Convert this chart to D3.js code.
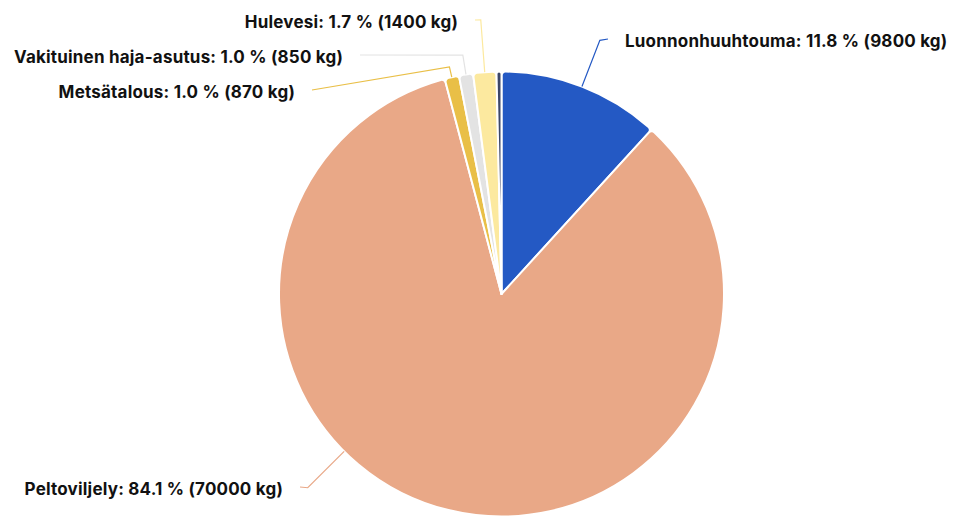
<!DOCTYPE html>
<html>
<head>
<meta charset="utf-8">
<script src="https://cdn.jsdelivr.net/npm/d3@7"></script>
<style>
  body { margin: 0; background: #fff; }
  text { font-family: Inter, "Noto Sans", sans-serif; font-weight: 700; font-size: 17px; letter-spacing: 0.2px; fill: #111; }
</style>
</head>
<body>
<svg id="chart" width="953" height="516"></svg>
<script>
// lähteet ja kuormat (kg)
const sources = ["Luonnonhuuhtouma", "Peltoviljely", "Metsätalous", "Vakituinen haja-asutus", "Hulevesi", "Muu"]
const loads = [9800, 70000, 870, 850, 1400, 300]
const shares = [11.8, 84.1, 1.0, 1.0, 1.7, 0.4]
const colors = ["#2459c4", "#e9a887", "#e9bf47", "#e3e3e3", "#fce99f", "#3c4666"]

// label placement: anchor angle (deg, null = slice middle), elbow radius, text x, text y, side
const labelLayout = [
  { angle: null, r2: 272, x: 625, y: 41, side: 1 },
  { angle: 225, r2: 274, x: 283, y: 489, side: -1 },
  { angle: null, r2: 233, x: 295, y: 92, side: -1 },
  { angle: null, r2: 242, x: 343, y: 57, side: -1 },
  { angle: null, r2: 275, x: 458, y: 22, side: -1 },
  null
]

const cx = 501.5, cy = 294, radius = 222.5

const svg = d3.select('#chart')
const g = svg.append('g').attr('transform', `translate(${cx},${cy})`)

const data = sources.map((s, i) => ({ name: s, value: loads[i], share: shares[i], i }))

const pie = d3.pie().value(d => d.value).sort(null)
const arcs = pie(data)

const arc = d3.arc().innerRadius(0).outerRadius(radius).cornerRadius(4)

g.selectAll('path.slice')
  .data(arcs)
  .join('path')
  .attr('class', 'slice')
  .attr('d', arc)
  .attr('fill', d => colors[d.data.i])
  .attr('stroke', '#fff')
  .attr('stroke-width', 2)
  .attr('stroke-linejoin', 'round')

// point at angle a (radians, 0 = up, clockwise) and radius r
const polar = (a, r) => [Math.sin(a) * r, -Math.cos(a) * r]

const labelled = arcs.filter(d => labelLayout[d.data.i])

g.selectAll('polyline.leader')
  .data(labelled)
  .join('polyline')
  .attr('class', 'leader')
  .attr('fill', 'none')
  .attr('stroke', d => colors[d.data.i])
  .attr('stroke-width', 1.2)
  .attr('points', d => {
    const L = labelLayout[d.data.i]
    const a = L.angle == null ? (d.startAngle + d.endAngle) / 2 : L.angle * Math.PI / 180
    const p1 = polar(a, radius)
    const p2 = polar(a, L.r2)
    const p3 = [L.x - cx - L.side * 17, L.y - 2 - cy]
    return [p1, p2, p3].map(p => p.join(',')).join(' ')
  })

svg.selectAll('text.label')
  .data(labelled)
  .join('text')
  .attr('class', 'label')
  .attr('x', d => labelLayout[d.data.i].x)
  .attr('y', d => labelLayout[d.data.i].y)
  .attr('dy', '0.35em')
  .attr('text-anchor', d => labelLayout[d.data.i].side > 0 ? 'start' : 'end')
  .text(d => `${d.data.name}: ${d.data.share.toFixed(1)} % (${d.data.value} kg)`)
</script>
</body>
</html>
